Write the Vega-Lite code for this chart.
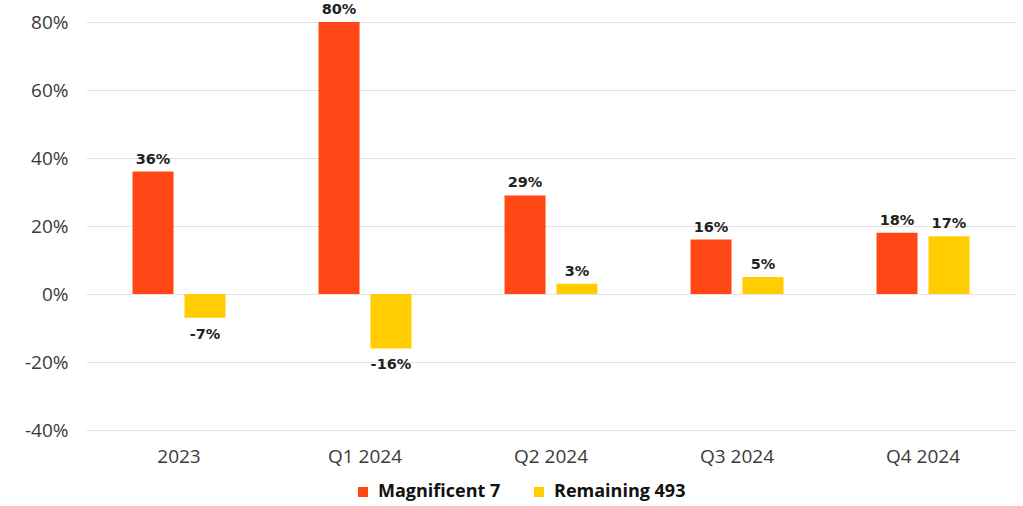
{
  "$schema": "https://vega.github.io/schema/vega-lite/v6.json",
  "width": 930,
  "height": 408,
  "autosize": {"type": "none"},
  "padding": {"left": 86, "top": 22, "right": 7, "bottom": 76},
  "background": "white",
  "config": {
    "view": {"stroke": null},
    "font": "Open Sans",
    "locale": {"number": {"decimal": ".", "thousands": ",", "grouping": [3], "currency": ["$", ""], "minus": "-"}},
    "axis": {"labelFont": "Open Sans", "labelColor": "#3a3a3a"}
  },
  "data": {
    "values": [
      {"period": "2023", "group": "Magnificent 7", "value": 0.36},
      {"period": "2023", "group": "Remaining 493", "value": -0.07},
      {"period": "Q1 2024", "group": "Magnificent 7", "value": 0.80},
      {"period": "Q1 2024", "group": "Remaining 493", "value": -0.16},
      {"period": "Q2 2024", "group": "Magnificent 7", "value": 0.29},
      {"period": "Q2 2024", "group": "Remaining 493", "value": 0.03},
      {"period": "Q3 2024", "group": "Magnificent 7", "value": 0.16},
      {"period": "Q3 2024", "group": "Remaining 493", "value": 0.05},
      {"period": "Q4 2024", "group": "Magnificent 7", "value": 0.18},
      {"period": "Q4 2024", "group": "Remaining 493", "value": 0.17}
    ]
  },
  "encoding": {
    "x": {
      "field": "period",
      "type": "nominal",
      "sort": null,
      "scale": {"paddingInner": 0.5, "paddingOuter": 0.25},
      "axis": {
        "title": null,
        "labelAngle": 0,
        "labelFontSize": 19,
        "labelPadding": 17,
        "domain": false,
        "ticks": false
      }
    },
    "xOffset": {
      "field": "group",
      "type": "nominal",
      "scale": {"paddingInner": 0.21, "paddingOuter": 0}
    },
    "y": {
      "field": "value",
      "type": "quantitative",
      "scale": {"domain": [-0.4, 0.8], "nice": false},
      "axis": {
        "title": null,
        "format": ".0%",
        "values": [-0.4, -0.2, 0, 0.2, 0.4, 0.6, 0.8],
        "labelFontSize": 19,
        "labelPadding": 18,
        "domain": false,
        "ticks": false,
        "gridColor": "#e2e2e2",
        "gridWidth": 1
      }
    }
  },
  "layer": [
    {
      "mark": {"type": "bar"},
      "encoding": {
        "color": {
          "field": "group",
          "type": "nominal",
          "scale": {"domain": ["Magnificent 7", "Remaining 493"], "range": ["#FF4815", "#FFCD00"]},
          "legend": {
            "title": null,
            "orient": "none",
            "legendX": 268,
            "legendY": 461,
            "direction": "horizontal",
            "symbolType": "square",
            "symbolSize": 100,
            "symbolOffset": 0,
            "labelFont": "Open Sans",
            "labelFontSize": 18,
            "labelFontWeight": "bold",
            "labelColor": "#111111",
            "labelOffset": 6,
            "columnPadding": 29
          }
        }
      }
    },
    {
      "transform": [{"filter": "datum.value >= 0"}],
      "mark": {"type": "text", "baseline": "bottom", "dy": -5, "font": "DejaVu Sans", "fontSize": 14.5, "fontWeight": "bold", "color": "#222222"},
      "encoding": {"text": {"field": "value", "type": "quantitative", "format": ".0%"}}
    },
    {
      "transform": [{"filter": "datum.value < 0"}],
      "mark": {"type": "text", "baseline": "top", "dy": 10, "font": "DejaVu Sans", "fontSize": 14.5, "fontWeight": "bold", "color": "#222222"},
      "encoding": {"text": {"field": "value", "type": "quantitative", "format": ".0%"}}
    }
  ]
}
